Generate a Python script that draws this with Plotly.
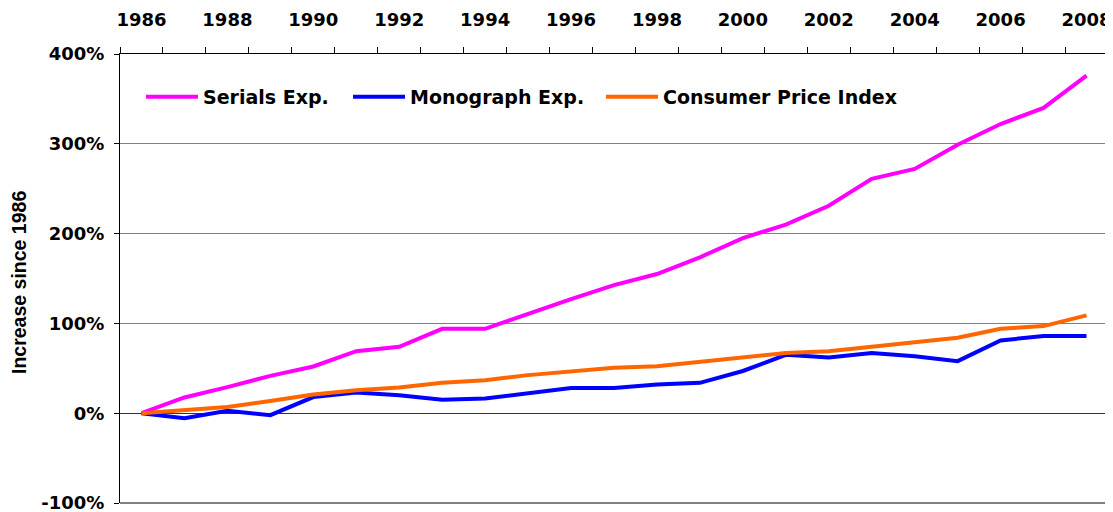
import plotly.graph_objects as go

years = [str(y) for y in range(1986, 2009)]
serials = [0, 17.5, 29, 41.6, 52, 69, 74, 94, 94, 111, 127, 142.7, 155, 173.6, 195,
           210, 231, 261, 272, 299, 322, 340, 376]
monograph = [0, -5.6, 2.6, -2.2, 18, 23, 20, 15, 16.4, 22, 28, 28, 32, 33.8, 47,
             65, 62, 67, 63.5, 58, 81, 86, 86]
cpi = [0, 3.3, 7, 13.7, 20.8, 25.6, 28.6, 33.8, 36.8, 42.4, 47, 50.5, 52.4, 57, 62,
       67, 69, 74, 79, 84, 94, 97, 109]
y_ticks = [-100, 0, 100, 200, 300, 400]
y_labels = [f"{v}%" for v in y_ticks]
x_labels = [y if int(y) % 2 == 0 else "" for y in years]

# page has an 8px body margin; figure coordinates are page coordinates minus 8
OFF = 8
W, H = 1105, 504
L, R, T, B = 120 - OFF, 5, 54 - OFF, 9
pw = W - L - R
ph = H - T - B

fig = go.Figure()
series = [("Serials Exp.", serials, "#FF00FF", "legend"),
          ("Monograph Exp.", monograph, "#0000FF", "legend2"),
          ("Consumer Price Index", cpi, "#FF6600", "legend3")]
for name, vals, col, lg in series:
    fig.add_trace(go.Scatter(x=years, y=vals, mode="lines", name=name,
                             line=dict(color=col, width=4), legend=lg))

font_h = "DejaVu Sans"
legx = [148, 355, 608]   # page x of the legend line start
leg_y = 97               # page y of legend centre
leg_common = dict(orientation="h", yanchor="middle", xanchor="left",
                  bgcolor="rgba(0,0,0,0)", borderwidth=0, itemwidth=52,
                  font=dict(family=font_h, size=19, color="black", weight="bold"))
ly = (H - B - (leg_y - OFF)) / ph
fig.update_layout(
    legend=dict(x=(legx[0] - 120 - 7) / pw, y=ly, **leg_common),
    legend2=dict(x=(legx[1] - 120 - 7) / pw, y=ly, **leg_common),
    legend3=dict(x=(legx[2] - 120 - 7) / pw, y=ly, **leg_common),
)

fig.update_layout(
    width=W, height=H,
    margin=dict(l=L, r=R, t=T, b=B, autoexpand=False),
    paper_bgcolor="white", plot_bgcolor="white",
    font=dict(family=font_h, size=18, color="black"),
    xaxis=dict(type="category", side="top", tickvals=years, ticktext=x_labels,
               tickson="boundaries", ticks="outside", ticklen=6, tickcolor="black",
               showline=True, linecolor="black", linewidth=1, showgrid=False,
               range=[-0.5, 22.5], ticklabelstandoff=20, tickangle=0, automargin=False,
               ticklabeloverflow="allow",
               tickfont=dict(family=font_h, size=18, color="black", weight="bold")),
    yaxis=dict(range=[-100, 400], tickvals=y_ticks, ticktext=y_labels,
               ticks="outside", ticklen=5, tickcolor="black",
               showline=True, linecolor="black", linewidth=1,
               showgrid=True, gridcolor="#808080", gridwidth=1,
               zeroline=True, zerolinecolor="#333333", zerolinewidth=1,
               ticklabelstandoff=6, automargin=False, ticklabeloverflow="allow",
               tickfont=dict(family=font_h, size=18, color="black", weight="bold")),
    showlegend=True,
)

fig.add_shape(type="line", xref="paper", yref="paper", x0=0, x1=1, y0=0, y1=0,
              line=dict(color="#808080", width=2))
fig.add_shape(type="line", xref="paper", yref="paper", x0=1, x1=1, y0=0, y1=1,
              line=dict(color="#808080", width=2))

fig.add_annotation(text="Increase since 1986", textangle=-90, xref="paper", yref="paper",
                   x=(19 - 120) / pw, y=(H - B - (283 - OFF)) / ph,
                   xanchor="center", yanchor="middle", showarrow=False,
                   font=dict(family="Liberation Sans", size=19.5, color="black", weight="bold"))

fig.write_html("out.html")
